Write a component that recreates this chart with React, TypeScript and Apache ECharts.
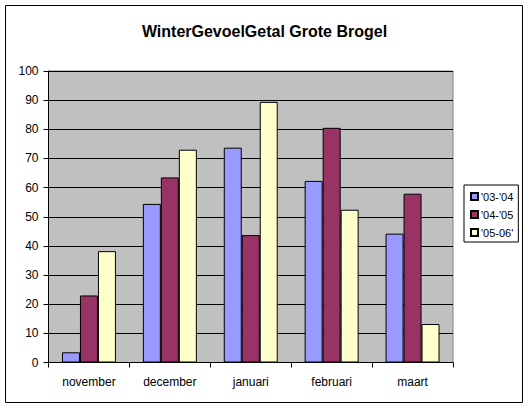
import React, { useEffect, useRef } from "react";
import * as echarts from "echarts";

const categories = ["november", "december", "januari", "februari", "maart"];
const seriesNames = ["'03-'04", "'04-'05", "'05-06'"];
const s0304 = [3.5, 54.4, 73.7, 62.3, 44.2];
const s0405 = [23, 63.5, 43.7, 80.5, 57.9];
const s0506 = [38.2, 73, 89.4, 52.4, 13.2];
const colors = ["#9999FF", "#993366", "#FFFFCC"];

const FONT = "Liberation Sans, Arial, sans-serif";

export default function App() {
  const ref = useRef<HTMLDivElement>(null);
  useEffect(() => {
    if (!ref.current) return;
    const chart = echarts.init(ref.current, null, { renderer: "svg" });
    const data = [s0304, s0405, s0506];
    chart.setOption({
      animation: false,
      backgroundColor: "#ffffff",
      title: {
        text: "WinterGevoelGetal Grote Brogel",
        left: "center",
        top: 18,
        textStyle: { fontFamily: FONT, fontSize: 16, fontWeight: "bold", color: "#000" },
      },
      graphic: [
        {
          type: "rect",
          shape: { x: 5.5, y: 5.5, width: 517, height: 397 },
          style: { fill: "none", stroke: "#000", lineWidth: 1 },
          silent: true,
        },
      ],
      legend: {
        orient: "vertical",
        left: 464,
        top: 185,
        padding: [6, 5, 4, 6],
        itemGap: 7,
        itemWidth: 7,
        itemHeight: 7,
        borderColor: "#000",
        borderWidth: 1,
        backgroundColor: "#fff",
        icon: "rect",
        textStyle: { fontFamily: FONT, fontSize: 11, color: "#000", padding: [0, 0, 0, -2] },
        data: seriesNames,
      },
      grid: {
        left: 48.5,
        right: 76,
        top: 71,
        bottom: 45.5,
        show: true,
        backgroundColor: "#C0C0C0",
        borderColor: "#808080",
        borderWidth: 1,
      },
      xAxis: {
        type: "category",
        data: categories,
        axisLine: { lineStyle: { color: "#000", width: 1 } },
        axisTick: { show: true, length: 5, lineStyle: { color: "#000" } },
        axisLabel: { fontFamily: FONT, fontSize: 12, color: "#000", margin: 13 },
      },
      yAxis: {
        type: "value",
        min: 0,
        max: 100,
        interval: 10,
        axisLine: { show: true, lineStyle: { color: "#000", width: 1 } },
        axisTick: { show: true, length: 5, lineStyle: { color: "#000" } },
        splitLine: { show: true, lineStyle: { color: "#000", width: 1 } },
        axisLabel: { fontFamily: FONT, fontSize: 12, color: "#000", margin: 10 },
      },
      series: seriesNames.map((name, i) => ({
        name,
        type: "bar",
        data: data[i],
        barGap: "0%",
        barCategoryGap: "33.3%",
        itemStyle: { color: colors[i], borderColor: "#000", borderWidth: 1 },
      })),
    });
    return () => chart.dispose();
  }, []);
  return (
    <div
      ref={ref}
      style={{ position: "absolute", left: 0, top: 0, width: 529, height: 408 }}
    />
  );
}
